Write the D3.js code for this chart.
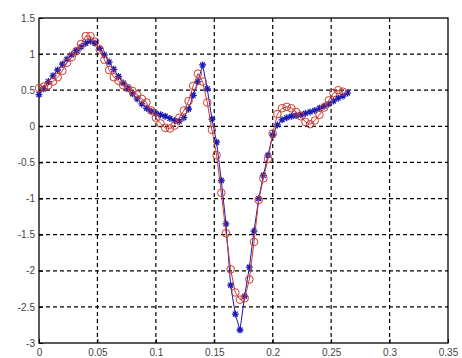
<!DOCTYPE html>
<html>
<head>
<meta charset="utf-8">
<script src="https://cdn.jsdelivr.net/npm/d3@7/dist/d3.min.js"></script>
<style>
  html, body { margin: 0; padding: 0; background: #fff; }
  svg { display: block; }
  .tick text { font-family: "Liberation Sans", Arial, sans-serif; font-size: 10px; fill: #444; }
</style>
</head>
<body>
<svg id="chart" width="462" height="358"></svg>
<script>
// Sample times (s)
const time = [
  0.000, 0.004, 0.008, 0.012, 0.016, 0.020, 0.024, 0.028, 0.032, 0.036,
  0.040, 0.044, 0.048, 0.052, 0.056, 0.060, 0.064, 0.068, 0.072, 0.076,
  0.080, 0.084, 0.088, 0.092, 0.096, 0.100, 0.104, 0.108, 0.112, 0.116,
  0.120, 0.124, 0.128, 0.132, 0.136, 0.140, 0.144, 0.148, 0.152, 0.156,
  0.160, 0.164, 0.168, 0.172, 0.176, 0.180, 0.184, 0.188, 0.192, 0.196,
  0.200, 0.204, 0.208, 0.212, 0.216, 0.220, 0.224, 0.228, 0.232, 0.236,
  0.240, 0.244, 0.248, 0.252, 0.256, 0.260, 0.264
];

// Original signal ('*' markers)
const signalA = [
  0.44, 0.52, 0.62, 0.70, 0.78, 0.86, 0.93, 0.99, 1.05, 1.10,
  1.15, 1.18, 1.15, 1.08, 0.99, 0.89, 0.79, 0.69, 0.60, 0.53,
  0.45, 0.38, 0.31, 0.25, 0.21, 0.18, 0.16, 0.14, 0.11, 0.08,
  0.07, 0.12, 0.24, 0.43, 0.62, 0.85, 0.52, 0.10, -0.22, -0.75,
  -1.35, -2.20, -2.60, -2.82, -2.35, -1.95, -1.45, -1.00, -0.68, -0.40,
  -0.12, 0.02, 0.09, 0.12, 0.14, 0.15, 0.16, 0.18, 0.20, 0.22,
  0.25, 0.28, 0.31, 0.35, 0.39, 0.42, 0.46
];

// Reconstructed signal ('o' markers)
const signalB = [
  0.53, 0.55, 0.57, 0.62, 0.68, 0.77, 0.88, 0.96, 1.04, 1.14,
  1.25, 1.25, 1.17, 1.06, 0.92, 0.78, 0.68, 0.63, 0.57, 0.53,
  0.49, 0.44, 0.38, 0.33, 0.22, 0.12, 0.04, -0.02, -0.03, 0.01,
  0.12, 0.22, 0.35, 0.56, 0.73, 0.62, 0.33, -0.05, -0.40, -0.92,
  -1.48, -1.98, -2.30, -2.40, -2.38, -2.12, -1.60, -1.02, -0.72, -0.45,
  -0.10, 0.17, 0.25, 0.27, 0.25, 0.20, 0.14, 0.06, 0.03, 0.08,
  0.16, 0.26, 0.36, 0.46, 0.50, 0.48
];

const xTicks = [0, 0.05, 0.1, 0.15, 0.2, 0.25, 0.3, 0.35];
const yTicks = [-3, -2.5, -2, -1.5, -1, -0.5, 0, 0.5, 1, 1.5];

const margin = { left: 39, right: 14, top: 18, bottom: 15 };
const W = 462, H = 358;
const svg = d3.select("#chart");

const x = d3.scaleLinear().domain([0, 0.35]).range([margin.left, W - margin.right]);
const y = d3.scaleLinear().domain([-3, 1.5]).range([H - margin.bottom, margin.top]);

// Dashed grid
const grid = svg.append("g").attr("stroke", "#000").attr("stroke-width", 1.2)
  .attr("stroke-dasharray", "4,3");
grid.selectAll("line.gx").data(xTicks.slice(1, -1)).join("line")
  .attr("x1", d => x(d)).attr("x2", d => x(d))
  .attr("y1", y(1.5)).attr("y2", y(-3));
grid.selectAll("line.gy").data(yTicks.slice(1, -1)).join("line")
  .attr("x1", x(0)).attr("x2", x(0.35))
  .attr("y1", d => y(d)).attr("y2", d => y(d));

// Axes
const fmt = d => String(d);
const xAxis = d3.axisBottom(x).tickValues(xTicks).tickFormat(fmt).tickSizeInner(-4).tickSizeOuter(0).tickPadding(6);
const yAxis = d3.axisLeft(y).tickValues(yTicks).tickFormat(fmt).tickSizeInner(-4).tickSizeOuter(0).tickPadding(4);
svg.append("g").attr("transform", `translate(0,${y(-3)})`).call(xAxis)
  .call(g => g.select(".domain").remove());
svg.append("g").attr("transform", `translate(${x(0)},0)`).call(yAxis)
  .call(g => g.select(".domain").remove());

// Box
svg.append("rect")
  .attr("x", x(0)).attr("y", y(1.5))
  .attr("width", x(0.35) - x(0)).attr("height", y(-3) - y(1.5))
  .attr("fill", "none").attr("stroke", "#000").attr("stroke-width", 1.3);

const blue = "#1a1ab4", red = "#cc3a2e";
const line = d3.line().x(d => x(d[0])).y(d => y(d[1]));
const ptsA = time.slice(0, signalA.length).map((t, i) => [t, signalA[i]]);
const ptsB = time.slice(0, signalB.length).map((t, i) => [t, signalB[i]]);

// Series A: line with asterisks
svg.append("path").datum(ptsA).attr("d", line)
  .attr("fill", "none").attr("stroke", blue).attr("stroke-width", 1);
const star = svg.append("g").attr("stroke", blue).attr("stroke-width", 1.3);
ptsA.forEach(([t, v]) => {
  const cx = x(t), cy = y(v), r = 3.5, q = r * 0.7;
  star.append("path").attr("d",
    `M${cx - r},${cy}L${cx + r},${cy}M${cx},${cy - r}L${cx},${cy + r}` +
    `M${cx - q},${cy - q}L${cx + q},${cy + q}M${cx - q},${cy + q}L${cx + q},${cy - q}`);
});

// Series B: line with open circles
svg.append("path").datum(ptsB).attr("d", line)
  .attr("fill", "none").attr("stroke", red).attr("stroke-width", 1);
svg.append("g").selectAll("circle").data(ptsB).join("circle")
  .attr("cx", d => x(d[0])).attr("cy", d => y(d[1])).attr("r", 3.8)
  .attr("fill", "none").attr("stroke", red).attr("stroke-width", 1);
</script>
</body>
</html>
